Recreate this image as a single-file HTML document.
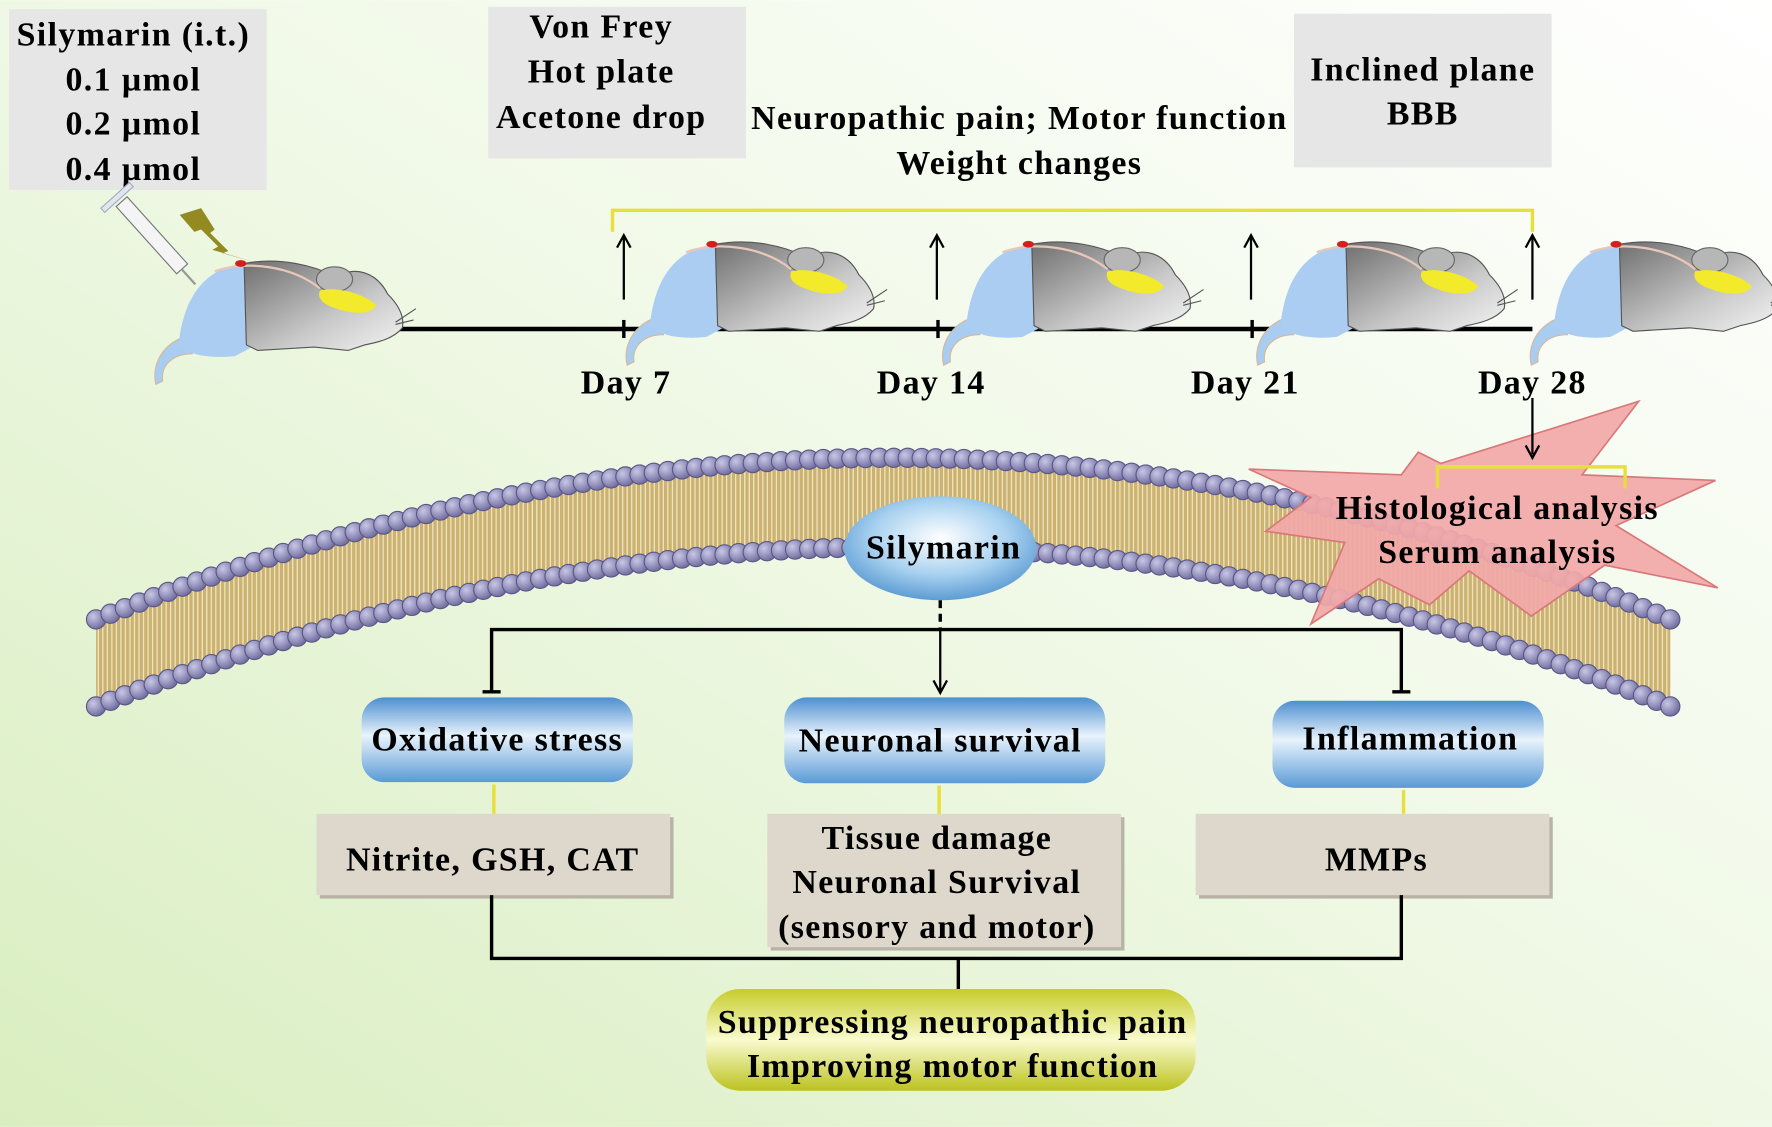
<!DOCTYPE html>
<html><head><meta charset="utf-8">
<style>
html,body{margin:0;padding:0;width:1772px;height:1127px;overflow:hidden;background:#fff}
svg{display:block}
text{font-family:"Liberation Serif",serif;font-weight:bold;fill:#000;font-size:30px;letter-spacing:1.2px}
</style></head>
<body>
<svg id="s" width="1772" height="1127" viewBox="0 0 1568 997" xmlns="http://www.w3.org/2000/svg">
<defs>
<linearGradient id="bg" x1="0" y1="1" x2="1" y2="0">
<stop offset="0" stop-color="#d9eec0"/><stop offset="0.55" stop-color="#f1f9e8"/><stop offset="1" stop-color="#ffffff"/>
</linearGradient>
<radialGradient id="blue" cx="0.5" cy="0.4" r="0.7">
<stop offset="0" stop-color="#ffffff"/><stop offset="0.5" stop-color="#a9d2f0"/><stop offset="1" stop-color="#3f86c8"/>
</radialGradient>
<linearGradient id="bbox" x1="0" y1="0" x2="0" y2="1">
<stop offset="0" stop-color="#4d8fd0"/><stop offset="0.45" stop-color="#e8f3fc"/><stop offset="1" stop-color="#5a9ad6"/>
</linearGradient>
<linearGradient id="ypill" x1="0" y1="0" x2="0" y2="1">
<stop offset="0" stop-color="#c7cc2a"/><stop offset="0.5" stop-color="#f9fbcf"/><stop offset="1" stop-color="#bcc21f"/>
</linearGradient>
<linearGradient id="grey" x1="0" y1="0" x2="1" y2="1">
<stop offset="0" stop-color="#6e6e6e"/><stop offset="0.6" stop-color="#c9c9c9"/><stop offset="1" stop-color="#f4f4f4"/>
</linearGradient>
<pattern id="tails" width="4" height="10" patternUnits="userSpaceOnUse">
<rect width="4" height="10" fill="#cbb26e"/><rect x="2.5" width="1" height="10" fill="#f3ead0"/>
</pattern>
<radialGradient id="bead" cx="0.35" cy="0.35" r="0.7">
<stop offset="0" stop-color="#c9c7e6"/><stop offset="1" stop-color="#6d6a9c"/>
</radialGradient>
<g id="mouse">
<path d="M40,72 C20,75 5,95 10,115 L16,112 C14,98 25,88 42,88 Z" fill="#a9cdf0" stroke="#d8b79a" stroke-width="1"/>
<path d="M30,80 C35,30 60,10 90,8 L95,82 L80,90 C60,92 40,90 30,80Z" fill="#aacdf1"/>
<path d="M88,8 C120,2 150,10 170,20 C185,10 205,15 215,35 C225,45 230,55 228,65 C220,75 205,78 195,80 L180,85 L150,82 L100,85 L90,80 Z" fill="url(#grey)" stroke="#555" stroke-width="1"/>
<ellipse cx="168" cy="22" rx="16" ry="11" fill="#b7b7b7" stroke="#666" stroke-width="1"/>
<path d="M155,32 C170,28 195,35 205,45 C200,55 180,52 170,48 C160,45 152,40 155,32Z" fill="#f2ea2a"/>
<path d="M62,15 C90,5 130,10 155,30" stroke="#e8c7b8" stroke-width="2" fill="none"/>
<ellipse cx="85" cy="8" rx="5" ry="3" fill="#d3201c"/>
<path d="M222,60 L240,48 M222,62 L238,58" stroke="#555" stroke-width="1"/>
</g>
</defs>
<rect width="1568" height="997" fill="url(#bg)"/>

<!-- membrane -->
<path d="M85,548 Q800,262 1478,548 L1478,625 Q800,343 85,625 Z" fill="url(#tails)"/>
<g id="beads"></g>

<!-- top boxes -->
<rect x="8" y="8" width="228" height="160" fill="#e6e6e6"/>
<text x="118" y="40" text-anchor="middle">Silymarin (i.t.)</text>
<text x="118" y="80" text-anchor="middle">0.1 µmol</text>
<text x="118" y="119" text-anchor="middle">0.2 µmol</text>
<text x="118" y="159" text-anchor="middle">0.4 µmol</text>
<rect x="432" y="6" width="228" height="134" fill="#e6e6e6"/>
<text x="532" y="33" text-anchor="middle">Von Frey</text>
<text x="532" y="73" text-anchor="middle">Hot plate</text>
<text x="532" y="113" text-anchor="middle">Acetone drop</text>
<rect x="1145" y="12" width="228" height="136" fill="#e6e6e6"/>
<text x="1259" y="71" text-anchor="middle">Inclined plane</text>
<text x="1259" y="110" text-anchor="middle">BBB</text>
<text x="902" y="114" text-anchor="middle">Neuropathic pain; Motor function</text>
<text x="902" y="154" text-anchor="middle">Weight changes</text>

<!-- syringe & bolt -->
<g transform="translate(108,178) rotate(48)">
<rect x="0" y="-6" width="80" height="13" fill="#f4f4f4" stroke="#777"/>
<rect x="-8" y="-16" width="5" height="34" fill="#dfe6f0" stroke="#aab"/>
<line x1="80" y1="1" x2="98" y2="1" stroke="#999" stroke-width="2"/>
</g>
<polygon points="159,190 178,184 190,203 186,206 202,222 197,224 226,232 188,221 193,218 178,203 172,205" fill="#938b22"/>

<!-- timeline -->
<line x1="310" y1="291" x2="1356" y2="291" stroke="#000" stroke-width="4"/>
<g stroke="#000" stroke-width="3">
<line x1="552" y1="283" x2="552" y2="299"/><line x1="830" y1="283" x2="830" y2="299"/><line x1="1108" y1="283" x2="1108" y2="299"/>
</g>
<polyline points="542,205 542,186 1356,186 1356,205" fill="none" stroke="#e8e03a" stroke-width="3"/>
<g stroke="#000" stroke-width="2" fill="none">
<line x1="552" y1="265" x2="552" y2="210"/><polyline points="546,219 552,208 558,219"/>
<line x1="829" y1="265" x2="829" y2="210"/><polyline points="823,219 829,208 835,219"/>
<line x1="1107" y1="265" x2="1107" y2="210"/><polyline points="1101,219 1107,208 1113,219"/>
<line x1="1356" y1="265" x2="1356" y2="210"/><polyline points="1350,219 1356,208 1362,219"/>
</g>
<use href="#mouse" transform="translate(128,225)"/>
<use href="#mouse" transform="translate(545,208)"/>
<use href="#mouse" transform="translate(825,208)"/>
<use href="#mouse" transform="translate(1103,208)"/>
<use href="#mouse" transform="translate(1345,208)"/>
<text x="554" y="348" text-anchor="middle">Day 7</text>
<text x="824" y="348" text-anchor="middle">Day 14</text>
<text x="1102" y="348" text-anchor="middle">Day 21</text>
<text x="1356" y="348" text-anchor="middle">Day 28</text>

<!-- starburst -->
<polygon points="1105,415 1240,420 1255,400 1275,410 1450,355 1400,420 1518,425 1430,465 1520,520 1420,500 1355,545 1300,505 1265,535 1220,512 1160,552 1190,480 1120,470 1160,440" fill="#f2a8a8" fill-opacity="0.92" stroke="#d9787a" stroke-width="1.5"/>
<line x1="1356" y1="352" x2="1356" y2="402" stroke="#000" stroke-width="2"/>
<polyline points="1350,394 1356,405 1362,394" fill="none" stroke="#000" stroke-width="2"/>
<polyline points="1272,432 1272,413 1438,413 1438,432" fill="none" stroke="#e8e03a" stroke-width="3"/>
<text x="1325" y="459" text-anchor="middle">Histological analysis</text>
<text x="1325" y="498" text-anchor="middle">Serum analysis</text>

<!-- silymarin -->
<ellipse cx="832" cy="485" rx="85" ry="46" fill="url(#blue)"/>
<text x="835" y="494" text-anchor="middle">Silymarin</text>
<line x1="832" y1="531" x2="832" y2="557" stroke="#000" stroke-width="3" stroke-dasharray="7,5"/>
<line x1="832" y1="557" x2="832" y2="612" stroke="#000" stroke-width="2"/>
<polyline points="826,602 832,613 838,602" fill="none" stroke="#000" stroke-width="2"/>
<polyline points="435,612 435,557 1240,557 1240,612" fill="none" stroke="#000" stroke-width="3"/>
<line x1="427" y1="612" x2="443" y2="612" stroke="#000" stroke-width="3"/>
<line x1="1232" y1="612" x2="1248" y2="612" stroke="#000" stroke-width="3"/>

<!-- blue boxes -->
<rect x="320" y="617" width="240" height="75" rx="20" fill="url(#bbox)"/>
<text x="440" y="664" text-anchor="middle">Oxidative stress</text>
<rect x="694" y="617" width="284" height="76" rx="20" fill="url(#bbox)"/>
<text x="832" y="665" text-anchor="middle">Neuronal survival</text>
<rect x="1126" y="620" width="240" height="77" rx="20" fill="url(#bbox)"/>
<text x="1248" y="663" text-anchor="middle">Inflammation</text>
<g stroke="#e8e03a" stroke-width="3">
<line x1="437" y1="694" x2="437" y2="720"/><line x1="831" y1="695" x2="831" y2="720"/><line x1="1242" y1="699" x2="1242" y2="720"/>
</g>

<!-- tan boxes -->
<rect x="283" y="723" width="313" height="72" fill="#b8b3a6"/>
<rect x="280" y="720" width="313" height="72" fill="#ddd8cb"/>
<text x="436" y="770" text-anchor="middle">Nitrite, GSH, CAT</text>
<rect x="682" y="723" width="313" height="118" fill="#b8b3a6"/>
<rect x="679" y="720" width="313" height="118" fill="#ddd8cb"/>
<text x="829" y="751" text-anchor="middle">Tissue damage</text>
<text x="829" y="790" text-anchor="middle">Neuronal Survival</text>
<text x="829" y="830" text-anchor="middle">(sensory and motor)</text>
<rect x="1061" y="723" width="313" height="72" fill="#b8b3a6"/>
<rect x="1058" y="720" width="313" height="72" fill="#ddd8cb"/>
<text x="1218" y="770" text-anchor="middle">MMPs</text>

<polyline points="435,792 435,848 1240,848 1240,792" fill="none" stroke="#000" stroke-width="3"/>
<line x1="848" y1="848" x2="848" y2="876" stroke="#000" stroke-width="3"/>
<rect x="625" y="875" width="433" height="90" rx="30" fill="url(#ypill)"/>
<text x="843" y="914" text-anchor="middle">Suppressing neuropathic pain</text>
<text x="843" y="953" text-anchor="middle">Improving motor function</text>
</svg>
<script>
(function(){
var g=document.getElementById('beads'),s='';
function row(y0,cy,y1,n){
 for(var i=0;i<=n;i++){var t=i/n;var x=(1-t)*(1-t)*85+2*t*(1-t)*800+t*t*1478;
 var y=(1-t)*(1-t)*y0+2*t*(1-t)*cy+t*t*y1;
 s+='<circle cx="'+x.toFixed(1)+'" cy="'+y.toFixed(1)+'" r="8.5" fill="url(#bead)" stroke="#5a5787" stroke-width="1"/>';}
}
row(548,262,548,112);row(625,343,625,112);
g.innerHTML=s;
})();
</script>
</body></html>
